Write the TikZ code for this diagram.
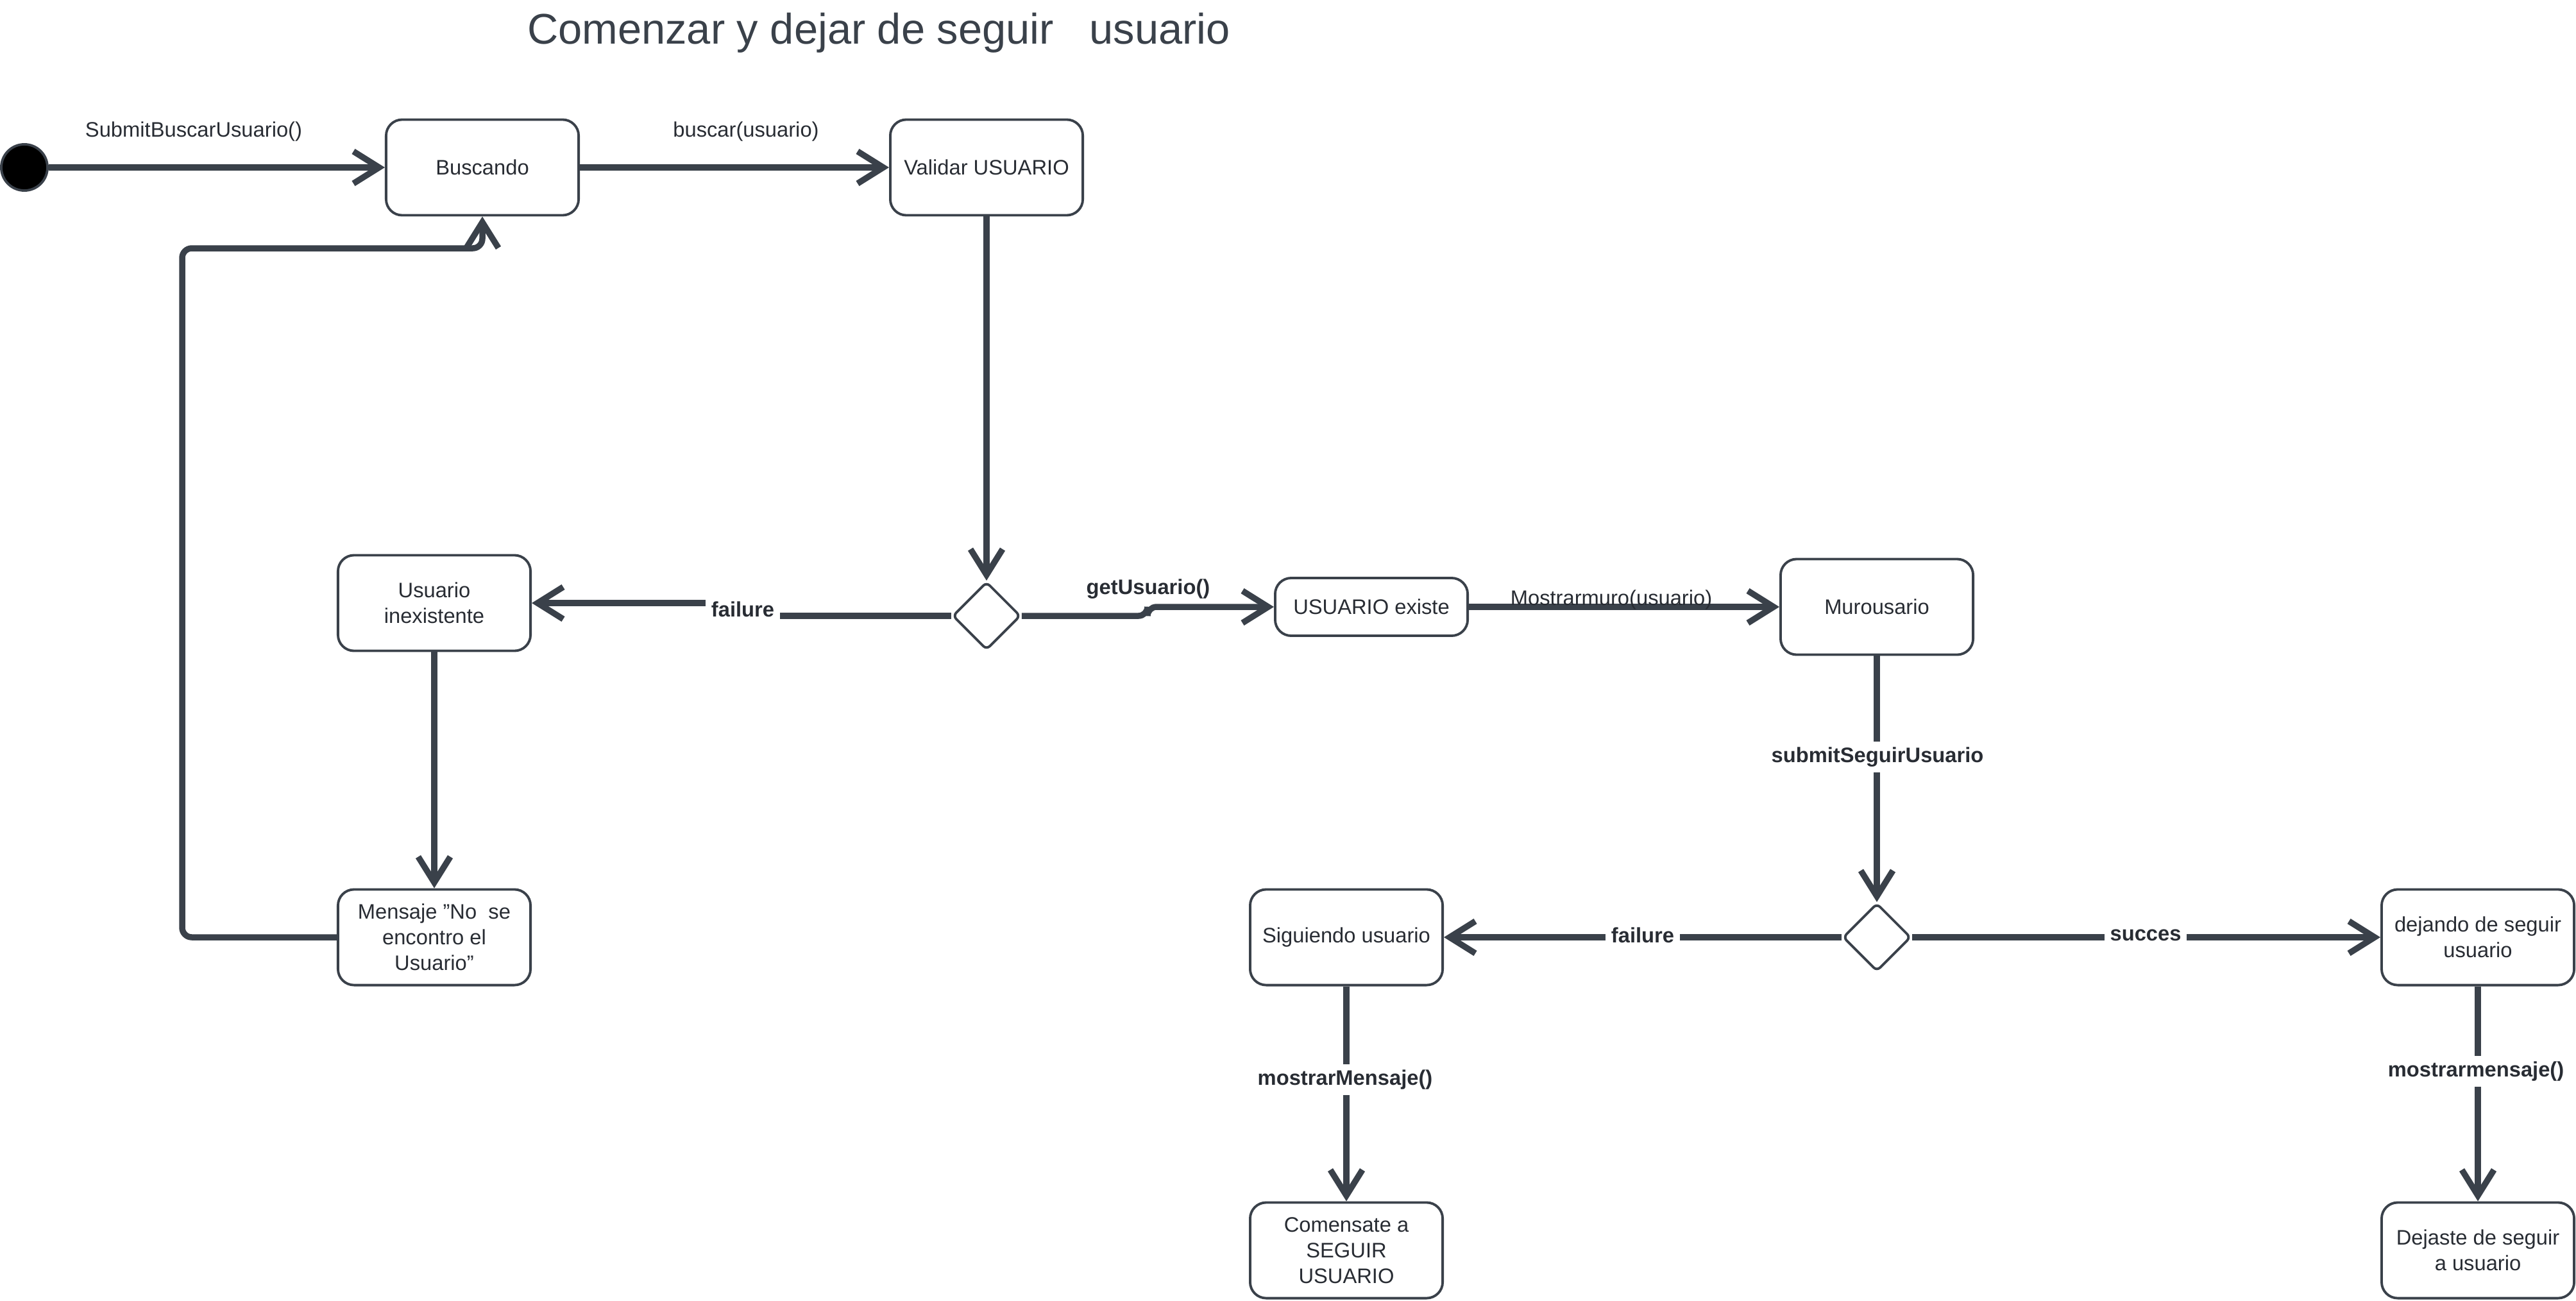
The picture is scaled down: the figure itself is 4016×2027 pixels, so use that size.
\documentclass[tikz,border=0pt]{standalone}
\usepackage{fontspec}
\setmainfont{Liberation Sans}
\usetikzlibrary{arrows.meta,shapes.geometric}
\definecolor{linegray}{HTML}{3A414A}
\definecolor{textgray}{HTML}{282C33}
\tikzset{
  state/.style={draw=linegray, line width=1.1pt, rounded corners=0.25cm, minimum width=3cm,
    minimum height=1.49cm, align=center, text=textgray, inner sep=1pt,
    font=\fontsize{9.3}{11.3}\selectfont},
  choice/.style={diamond, draw=linegray, line width=1.1pt, minimum width=1.06cm,
    minimum height=1.06cm, inner sep=0pt, rounded corners=2pt},
  flow/.style={draw=linegray, line width=2.7pt, -{Straight Barb[length=4mm,width=5mm]}},
  trans/.style={text=textgray, inner sep=1pt, font=\fontsize{9.3}{11.3}\selectfont},
  guard/.style={trans, fill=white, inner sep=2.5pt, font=\fontsize{9.3}{11.3}\selectfont\bfseries},
}

\begin{document}
\begin{tikzpicture}[x=0.01cm, y=-0.01cm]
  \useasboundingbox (0,0) rectangle (4016,2027);
  \node[text=linegray, font=\fontsize{19}{23}\selectfont] (title) at (1370,51) {Comenzar y dejar de seguir\ \ \ usuario};

  % states
  \node[circle, fill=black, draw=linegray, line width=1.1pt, minimum size=0.72cm, inner sep=0pt] (start) at (38,261) {};
  \node[state] (buscando) at (752,261) {Buscando};
  \node[state] (validar) at (1538,261) {Validar USUARIO};
  \node[choice] (dec1) at (1538,960) {};
  \node[state] (inexistente) at (677,940) {Usuario\\inexistente};
  \node[state] (mensaje) at (677,1461) {Mensaje \symbol{34}No\ \ se\\encontro el\\Usuario\symbol{34}};
  \node[state, minimum height=0.9cm] (existe) at (2138,946) {USUARIO existe};
  \node[state] (muro) at (2926,946) {Murousario};
  \node[choice] (dec2) at (2926,1461) {};
  \node[state] (siguiendo) at (2099,1461) {Siguiendo usuario};
  \node[state] (dejando) at (3863,1461) {dejando de seguir\\usuario};
  \node[state] (comensate) at (2099,1949) {Comensate a\\SEGUIR\\USUARIO};
  \node[state] (dejaste) at (3863,1949) {Dejaste de seguir\\a usuario};

  % transitions
  \draw[flow] (start) -- (buscando);
  \draw[flow] (buscando) -- (validar);
  \draw[flow] (validar) -- (dec1);
  \draw[flow] (dec1.west) -- ++(-326,0) |- (inexistente.east);
  \draw[flow, rounded corners=4pt] (dec1.east) -- ++(196,0) |- (existe.west);
  \draw[flow] (existe) -- (muro);
  \draw[flow] (muro) -- (dec2);
  \draw[flow] (dec2) -- (siguiendo);
  \draw[flow] (dec2) -- (dejando);
  \draw[flow] (siguiendo) -- (comensate);
  \draw[flow] (dejando) -- (dejaste);
  \draw[flow] (inexistente) -- (mensaje);
  \draw[flow, rounded corners=0.15cm] (mensaje.west) -| (284,387) -| (buscando.south);

  % labels
  \node[trans] (lsubmit) at (302,205) {SubmitBuscarUsuario()};
  \node[trans] (lbuscar) at (1163,205) {buscar(usuario)};
  \node[guard] (lfail1) at (1158,950) {failure};
  \node[guard, fill=none] (lget) at (1790,918) {getUsuario()};
  \node[trans] (lmuro) at (2512,935) {Mostrarmuro(usuario)};
  \node[guard] (lseguir) at (2927,1180) {submitSeguirUsuario};
  \node[guard] (lfail2) at (2561,1458) {failure};
  \node[guard] (lsucces) at (3345,1458) {succes};
  \node[guard] (lmostrar1) at (2097,1683) {mostrarMensaje()};
  \node[guard] (lmostrar2) at (3860,1670) {mostrarmensaje()};
\end{tikzpicture}
\end{document}
